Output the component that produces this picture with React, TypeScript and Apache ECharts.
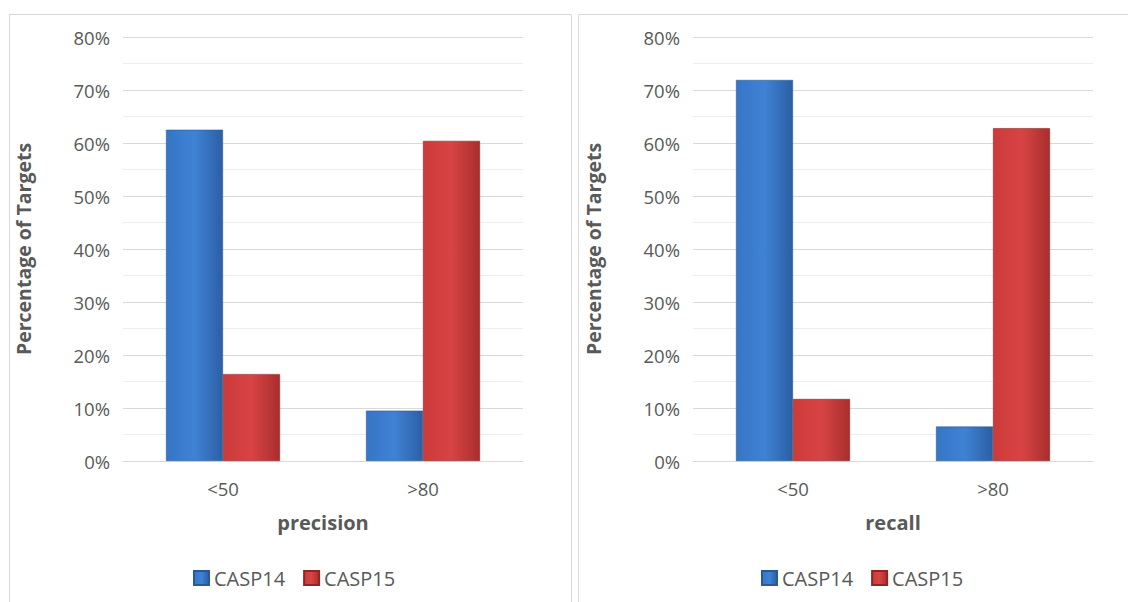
import React, { useEffect, useRef } from "react";
import * as echarts from "echarts";

const categories = ["<50", ">80"];
const seriesNames = ["CASP14", "CASP15"];
const precisionCASP14 = [62.5, 9.5];
const precisionCASP15 = [16.4, 60.4];
const recallCASP14 = [71.9, 6.5];
const recallCASP15 = [11.7, 62.8];
const yTicks = { min: 0, max: 80, interval: 10 };
const xTitles = ["precision", "recall"];
const yTitle = "Percentage of Targets";

const FONT = "'Open Sans', 'Noto Sans', sans-serif";
const TEXT = "#595959";

const blueGrad = new echarts.graphic.LinearGradient(0, 0, 1, 0, [
  { offset: 0, color: "#3675c6" },
  { offset: 0.5, color: "#3f82d4" },
  { offset: 1, color: "#2b5fa4" },
]);
const redGrad = new echarts.graphic.LinearGradient(0, 0, 1, 0, [
  { offset: 0, color: "#cc3a3a" },
  { offset: 0.5, color: "#d84444" },
  { offset: 1, color: "#a92d2d" },
]);

export default function App() {
  const ref = useRef<HTMLDivElement>(null);
  useEffect(() => {
    if (!ref.current) return;
    const chart = echarts.init(ref.current, null, { renderer: "svg" });
    const gridTop = 37;
    const gridBottom = 602 - 461;
    const grids = [
      { left: 123, right: 1128 - 523, top: gridTop, bottom: gridBottom },
      { left: 693, right: 1128 - 1093, top: gridTop, bottom: gridBottom },
    ];
    const xAxes = [0, 1].map((i) => ({
      type: "category",
      gridIndex: i,
      data: categories,
      name: xTitles[i],
      nameLocation: "middle",
      nameGap: 51,
      nameTextStyle: { fontFamily: FONT, fontSize: 20, fontWeight: "bold", color: TEXT },
      axisLine: { show: true, lineStyle: { color: "#d9d9d9", width: 1 } },
      axisTick: { show: false },
      axisLabel: { fontFamily: FONT, fontSize: 18.5, color: TEXT, margin: 18 },
    }));
    const yAxes = [0, 1].map((i) => ({
      type: "value",
      gridIndex: i,
      min: yTicks.min,
      max: yTicks.max,
      interval: yTicks.interval,
      name: yTitle,
      nameLocation: "middle",
      nameGap: 90,
      nameRotate: 90,
      nameTextStyle: { fontFamily: FONT, fontSize: 19.5, fontWeight: "bold", color: TEXT },
      axisLine: { show: false },
      axisTick: { show: false },
      axisLabel: { fontFamily: FONT, fontSize: 18.5, color: TEXT, margin: 13, formatter: "{value}%" },
      splitLine: { show: true, lineStyle: { color: "#d9d9d9", width: 1 } },
      minorTick: { show: false, splitNumber: 2 },
      minorSplitLine: { show: true, lineStyle: { color: "#eeeeee", width: 1 } },
    }));
    const mk = (name: string, data: number[], idx: number, grad: any, border: string) => ({
      type: "bar",
      name,
      xAxisIndex: idx,
      yAxisIndex: idx,
      data,
      barWidth: 57,
      barGap: "0%",
      itemStyle: { color: grad, borderColor: border, borderWidth: 0.6 },
    });
    const legendBase = {
      itemWidth: 15,
      itemHeight: 14,
      itemGap: 18,
      icon: "rect",
      data: seriesNames,
      textStyle: { fontFamily: FONT, fontSize: 20, color: TEXT },
    };
    chart.setOption({
      animation: false,
      backgroundColor: "#ffffff",
      color: ["#3a7bcc", "#cf3c3c"],
      grid: grids,
      xAxis: xAxes,
      yAxis: yAxes,
      legend: [
        { ...legendBase, left: 188, top: 563 },
        { ...legendBase, left: 756, top: 563 },
      ],
      series: [
        mk(seriesNames[0], precisionCASP14, 0, blueGrad, "#2a5a96"),
        mk(seriesNames[1], precisionCASP15, 0, redGrad, "#8f2525"),
        mk(seriesNames[0], recallCASP14, 1, blueGrad, "#2a5a96"),
        mk(seriesNames[1], recallCASP15, 1, redGrad, "#8f2525"),
      ],
      graphic: [
        {
          type: "rect",
          shape: { x: 9.5, y: 14.5, width: 562, height: 600 },
          style: { fill: "none", stroke: "#d9d9d9", lineWidth: 1 },
          silent: true,
        },
        {
          type: "rect",
          shape: { x: 578.5, y: 14.5, width: 570, height: 600 },
          style: { fill: "none", stroke: "#d9d9d9", lineWidth: 1 },
          silent: true,
        },
      ],
    });
    return () => chart.dispose();
  }, []);
  return (
    <div
      ref={ref}
      style={{ position: "absolute", left: 0, top: 0, width: 1128, height: 602 }}
    />
  );
}
